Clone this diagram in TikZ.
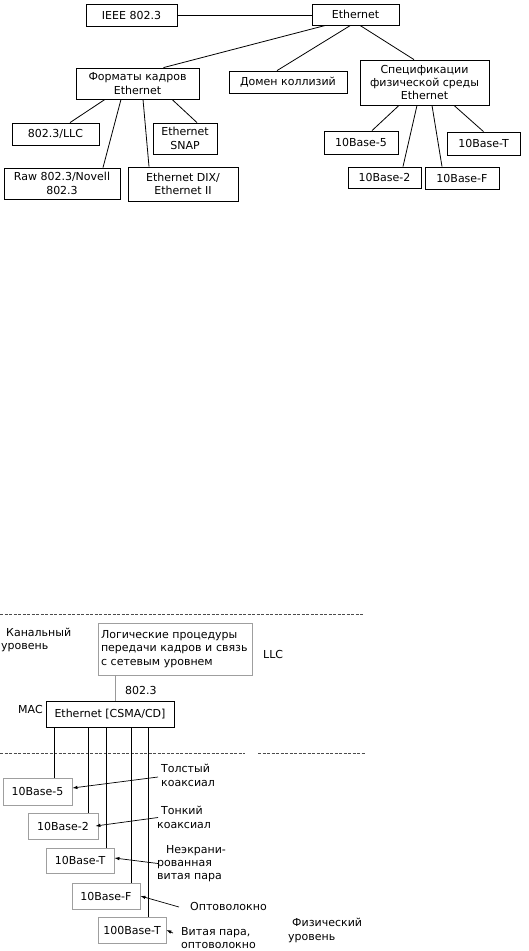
\documentclass[tikz,border=0pt]{standalone}
\usepackage{fontspec}
\setmainfont{DejaVu Sans}
\usepackage{tikz}
\usetikzlibrary{arrows.meta}
\newcommand\dgfont{\fontsize{11}{13.3}\selectfont}

\begin{document}
\begin{tikzpicture}[x=1pt,y=-1pt,
  box/.style={rectangle,draw=black,line width=0.8pt,inner sep=1pt,align=center,font=\dgfont},
  gbox/.style={box,draw=gray!75},
  txt/.style={inner sep=0pt,align=left,anchor=west,font=\dgfont},
  lnk/.style={black,line width=0.8pt},
  arr/.style={-{Latex[length=5pt,width=3.5pt]},black,line width=0.7pt},
  sep/.style={gray!60!black,line width=0.8pt,dash pattern=on 3pt off 1.5pt}]
\useasboundingbox (0,0) rectangle (528,951);
% classification tree
\node[box,minimum width=91pt,minimum height=22pt] (ieee) at (131.5,15) {IEEE 802.3};
\node[box,minimum width=87pt,minimum height=21pt] (eth) at (355.5,14.5) {Ethernet};
\node[box,minimum width=123pt,minimum height=31pt] (fmt) at (137.5,83.5) {Форматы кадров\\Ethernet};
\node[box,minimum width=118pt,minimum height=22pt] (dom) at (288,82) {Домен коллизий};
\node[box,minimum width=129pt,minimum height=45pt] (spec) at (424.5,82.5) {Спецификации\\физической среды\\Ethernet};
\node[box,minimum width=87pt,minimum height=22pt] (llc) at (55.5,134) {802.3/LLC};
\node[box,minimum width=64pt,minimum height=31pt] (snap) at (185,138.5) {Ethernet\\SNAP};
\node[box,minimum width=116pt,minimum height=31pt] (raw) at (62,183.5) {Raw 802.3/Novell\\802.3};
\node[box,minimum width=110pt,minimum height=34pt] (dix) at (183,184) {Ethernet DIX/\\Ethernet II};
\node[box,minimum width=74pt,minimum height=23pt] (b5) at (361,142.5) {10Base-5};
\node[box,minimum width=73pt,minimum height=23pt] (bt) at (483.5,143.5) {10Base-T};
\node[box,minimum width=73pt,minimum height=21pt] (b2) at (384.5,177.5) {10Base-2};
\node[box,minimum width=74pt,minimum height=22pt] (bf) at (462,178) {10Base-F};
\draw[lnk] (ieee.east) -- (ieee.east -| eth.west);
\draw[lnk] ([xshift=-30pt]eth.south) -- ([xshift=26pt]fmt.north);
\draw[lnk] ([xshift=-5pt]eth.south) -- ([xshift=-11pt]dom.north);
\draw[lnk] ([xshift=4.5pt]eth.south) -- ([xshift=-10.5pt]spec.north);
\draw[lnk] ([xshift=-32.5pt]fmt.south) -- ([xshift=14.5pt]llc.north);
\draw[lnk] ([xshift=-16.5pt]fmt.south) -- ([xshift=41pt]raw.north);
\draw[lnk] ([xshift=5.5pt]fmt.south) -- ([xshift=-34pt]dix.north);
\draw[lnk] ([xshift=34.5pt]fmt.south) -- ([xshift=12pt]snap.north);
\draw[lnk] ([xshift=-25.5pt]spec.south) -- ([xshift=11pt]b5.north);
\draw[lnk] ([xshift=-7.5pt]spec.south) -- ([xshift=18.5pt]b2.north);
\draw[lnk] ([xshift=7.5pt]spec.south) -- ([xshift=-20pt]bf.north);
\draw[lnk] ([xshift=29.5pt]spec.south) -- (bt.north);
% layers
\draw[sep] (0,614) -- (363,614);
\draw[sep] (0,753) -- (245,753);
\draw[sep] (258,753) -- (365,753);
\node[txt] (kan) at (1,640) {\hspace*{5pt}Канальный\\уровень};
\node[gbox,minimum width=154pt,minimum height=52pt,inner sep=3pt,align=left,text width=148pt] (llcbox) at (175,649) {Логические процедуры\\передачи кадров и связь\\с сетевым уровнем};
\node[txt] (llclbl) at (263,654) {LLC};
\node[txt] (std) at (125,690) {802.3};
\node[txt] (mac) at (18,709) {MAC};
\node[box,minimum width=128pt,minimum height=26pt] (macbox) at (110,714) {Ethernet [CSMA/CD]};
\draw[lnk,gray!80] ([xshift=-60pt]llcbox.south) -- ([xshift=-60pt]llcbox.south |- macbox.north);
\node[gbox,minimum width=69pt,minimum height=27pt] (p5) at (37.5,791.5) {10Base-5};
\node[gbox,minimum width=70pt,minimum height=26pt] (p2) at (63,826) {10Base-2};
\node[gbox,minimum width=68pt,minimum height=25pt] (pt) at (80,860.5) {10Base-T};
\node[gbox,minimum width=68pt,minimum height=26pt] (pf) at (106,896) {10Base-F};
\node[gbox,minimum width=68pt,minimum height=26pt] (p100) at (132,930) {100Base-T};
\draw[lnk] ([xshift=-56pt]macbox.south) -- ([xshift=-56pt]macbox.south |- p5.north);
\draw[lnk] ([xshift=-22pt]macbox.south) -- ([xshift=-22pt]macbox.south |- p2.north);
\draw[lnk] ([xshift=-4pt]macbox.south) -- ([xshift=-4pt]macbox.south |- pt.north);
\draw[lnk] ([xshift=21pt]macbox.south) -- ([xshift=21pt]macbox.south |- pf.north);
\draw[lnk] ([xshift=38pt]macbox.south) -- ([xshift=38pt]macbox.south |- p100.north);
\node[txt] (thick) at (161,775.5) {Толстый\\коаксиал};
\node[txt] (thin) at (157,817.5) {\hspace*{4pt}Тонкий\\коаксиал};
\node[txt] (utp) at (157,863.5) {\hspace*{9pt}Неэкрани-\\рованная\\витая пара};
\node[txt] (fib) at (190,906) {Оптоволокно};
\node[txt] (tp) at (181,938) {Витая пара,\\оптоволокно};
\node[txt] (phys) at (288,930.5) {\hspace*{4pt}Физический\\уровень};
\draw[arr] ([xshift=-3pt,yshift=-1.5pt]thick.west) -- ([yshift=3.5pt]p5.east);
\draw[arr] ([xshift=1pt]thin.west) -- ([xshift=-3pt]p2.east);
\draw[arr] ([xshift=1pt]utp.west) -- ([yshift=2.5pt]pt.east);
\draw[arr] ([xshift=-11pt,yshift=-1pt]fib.west) -- (pf.east);
\draw[arr] ([xshift=-8pt,yshift=5pt]tp.west) -- (p100.east);
\end{tikzpicture}
\end{document}
